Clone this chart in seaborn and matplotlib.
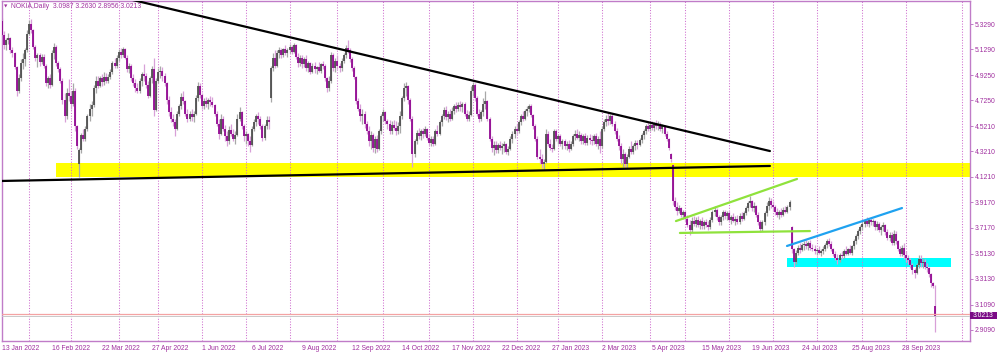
import numpy as np
import pandas as pd
import matplotlib
matplotlib.use("Agg")
import matplotlib.pyplot as plt
from matplotlib.patches import Rectangle
import matplotlib.transforms as mtrans
import seaborn as sns

# ---------------- data (daily bars, NOKIA, 13 Jan 2022 .. 19 Oct 2023) ----------------
opens = [
 5.35,5.24,5.16,5.20,5.22,5.12,5.10,4.99,4.80,4.90,
 5.02,5.05,5.12,5.25,5.33,5.28,5.15,5.06,5.08,5.03,
 5.07,5.00,4.86,4.90,4.85,5.10,5.15,5.02,4.97,4.88,
 4.73,4.60,4.78,4.76,4.70,4.80,4.52,4.22,4.33,4.45,
 4.42,4.50,4.60,4.66,4.69,4.82,4.88,4.84,4.90,4.87,
 4.91,4.88,4.91,4.95,5.02,5.00,5.06,5.11,5.08,5.13,
 5.06,4.97,5.00,4.90,4.86,4.82,4.80,4.88,4.93,4.92,
 4.85,4.76,4.90,4.97,4.65,4.88,4.95,4.96,4.92,4.86,
 4.73,4.63,4.58,4.55,4.50,4.62,4.68,4.75,4.72,4.62,
 4.58,4.62,4.59,4.62,4.74,4.84,4.77,4.68,4.72,4.70,
 4.73,4.71,4.69,4.62,4.54,4.46,4.58,4.50,4.44,4.40,
 4.49,4.46,4.42,4.45,4.58,4.63,4.52,4.44,4.46,4.40,
 4.37,4.50,4.55,4.60,4.58,4.52,4.43,4.52,4.57,4.74,
 4.98,5.06,5.00,5.10,5.12,5.08,5.13,5.10,5.12,5.15,
 5.11,5.16,5.07,5.02,5.06,5.01,5.05,4.98,5.02,4.95,
 5.00,4.97,4.99,4.96,5.01,5.00,4.90,4.82,4.88,5.08,
 4.98,5.04,5.00,4.98,5.04,5.08,5.14,5.12,5.05,4.98,
 4.91,4.72,4.66,4.60,4.62,4.54,4.48,4.40,4.45,4.35,
 4.42,4.34,4.48,4.60,4.63,4.56,4.54,4.48,4.53,4.51,
 4.48,4.52,4.60,4.74,4.82,4.84,4.73,4.58,4.30,4.40,
 4.47,4.44,4.48,4.46,4.50,4.43,4.39,4.42,4.38,4.48,
 4.46,4.55,4.60,4.65,4.59,4.62,4.58,4.64,4.68,4.66,
 4.69,4.67,4.70,4.62,4.58,4.61,4.80,4.85,4.74,4.62,
 4.58,4.63,4.70,4.72,4.58,4.42,4.35,4.37,4.33,4.37,
 4.35,4.36,4.38,4.32,4.34,4.42,4.46,4.50,4.48,4.55,
 4.60,4.58,4.64,4.66,4.68,4.61,4.52,4.42,4.28,4.26,
 4.22,4.24,4.46,4.38,4.35,4.34,4.48,4.42,4.44,4.38,
 4.40,4.36,4.38,4.34,4.38,4.44,4.46,4.43,4.45,4.40,
 4.44,4.39,4.43,4.41,4.40,4.44,4.38,4.42,4.36,4.50,
 4.55,4.58,4.56,4.60,4.54,4.48,4.42,4.36,4.26,4.30,
 4.22,4.28,4.34,4.32,4.36,4.39,4.37,4.41,4.45,4.48,
 4.52,4.50,4.53,4.51,4.54,4.52,4.53,4.50,4.52,4.46,
 4.42,4.30,4.21,3.93,3.88,3.85,3.87,3.82,3.84,3.79,
 3.74,3.70,3.77,3.75,3.78,3.74,3.77,3.73,3.76,3.74,
 3.72,3.78,3.84,3.86,3.80,3.76,3.80,3.84,3.81,3.83,
 3.78,3.80,3.77,3.79,3.76,3.81,3.79,3.83,3.87,3.91,
 3.93,3.87,3.89,3.82,3.76,3.71,3.76,3.83,3.89,3.93,
 3.90,3.88,3.84,3.82,3.84,3.82,3.86,3.84,3.88,3.72,
 3.55,3.45,3.52,3.56,3.54,3.58,3.59,3.57,3.60,3.56,
 3.55,3.53,3.54,3.52,3.53,3.55,3.58,3.61,3.59,3.55,
 3.51,3.48,3.46,3.50,3.49,3.53,3.51,3.55,3.52,3.57,
 3.61,3.65,3.69,3.72,3.75,3.77,3.75,3.78,3.76,3.77,
 3.72,3.75,3.70,3.72,3.74,3.68,3.64,3.66,3.60,3.67,
 3.61,3.55,3.51,3.56,3.50,3.48,3.46,3.42,3.38,3.36,
 3.42,3.47,3.44,3.45,3.41,3.40,3.35,3.28,3.0987,
]
highs = [
 5.38,5.27,5.22,5.26,5.23,5.15,5.11,5.00,4.93,5.05,
 5.10,5.14,5.28,5.36,5.37,5.29,5.16,5.10,5.10,5.09,
 5.09,5.01,4.92,4.93,5.12,5.18,5.16,5.04,4.99,4.90,
 4.78,4.82,4.89,4.80,4.86,4.82,4.53,4.35,4.47,4.50,
 4.52,4.62,4.70,4.72,4.85,4.92,4.92,4.92,4.93,4.95,
 4.94,4.93,4.97,5.04,5.06,5.08,5.13,5.14,5.15,5.14,
 5.08,5.02,5.01,4.93,4.89,4.86,4.90,4.95,5.01,4.94,
 4.88,4.92,5.00,5.06,4.90,4.98,5.00,4.99,4.94,4.87,
 4.76,4.67,4.62,4.58,4.64,4.70,4.78,4.80,4.73,4.66,
 4.64,4.66,4.64,4.77,4.87,4.86,4.78,4.74,4.75,4.74,
 4.76,4.75,4.70,4.64,4.58,4.62,4.60,4.53,4.48,4.52,
 4.54,4.50,4.48,4.62,4.67,4.64,4.54,4.48,4.47,4.44,
 4.52,4.58,4.62,4.63,4.60,4.54,4.54,4.60,4.60,5.00,
 5.10,5.12,5.12,5.15,5.14,5.14,5.16,5.14,5.17,5.16,
 5.18,5.17,5.10,5.08,5.08,5.07,5.08,5.04,5.03,5.02,
 5.03,5.00,5.03,5.02,5.04,5.01,4.91,4.92,5.11,5.10,
 5.06,5.08,5.02,5.06,5.10,5.16,5.20,5.14,5.07,5.00,
 4.92,4.74,4.70,4.66,4.64,4.56,4.52,4.48,4.47,4.44,
 4.45,4.50,4.62,4.66,4.64,4.58,4.57,4.56,4.57,4.56,
 4.55,4.64,4.76,4.86,4.87,4.85,4.74,4.60,4.42,4.49,
 4.51,4.50,4.51,4.52,4.51,4.46,4.44,4.44,4.50,4.53,
 4.57,4.62,4.67,4.68,4.64,4.66,4.67,4.70,4.71,4.71,
 4.72,4.71,4.71,4.65,4.64,4.84,4.87,4.86,4.76,4.66,
 4.65,4.74,4.80,4.73,4.59,4.44,4.40,4.40,4.39,4.40,
 4.39,4.40,4.39,4.36,4.44,4.48,4.52,4.54,4.57,4.62,
 4.64,4.66,4.68,4.70,4.70,4.62,4.54,4.44,4.34,4.30,
 4.26,4.50,4.48,4.42,4.38,4.50,4.50,4.46,4.46,4.42,
 4.42,4.40,4.41,4.40,4.46,4.49,4.50,4.48,4.47,4.46,
 4.47,4.45,4.46,4.45,4.46,4.47,4.44,4.48,4.52,4.58,
 4.61,4.63,4.62,4.62,4.56,4.51,4.45,4.39,4.34,4.32,
 4.30,4.36,4.40,4.38,4.41,4.41,4.43,4.47,4.50,4.54,
 4.55,4.55,4.56,4.55,4.57,4.56,4.55,4.54,4.53,4.48,
 4.43,4.31,4.22,3.96,3.92,3.90,3.88,3.86,3.85,3.82,
 3.78,3.80,3.81,3.80,3.81,3.79,3.80,3.78,3.79,3.77,
 3.80,3.86,3.89,3.87,3.82,3.82,3.86,3.86,3.85,3.85,
 3.82,3.83,3.81,3.82,3.83,3.84,3.85,3.89,3.93,3.97,
 3.94,3.92,3.90,3.84,3.78,3.78,3.85,3.92,3.96,3.95,
 3.93,3.90,3.87,3.86,3.87,3.88,3.89,3.90,3.94,3.73,
 3.56,3.54,3.58,3.60,3.60,3.61,3.62,3.61,3.62,3.59,
 3.58,3.56,3.57,3.55,3.57,3.60,3.63,3.64,3.61,3.56,
 3.53,3.51,3.52,3.53,3.55,3.57,3.56,3.58,3.58,3.63,
 3.67,3.71,3.74,3.77,3.79,3.80,3.79,3.80,3.79,3.78,
 3.77,3.76,3.74,3.76,3.75,3.71,3.68,3.68,3.70,3.69,
 3.62,3.57,3.58,3.60,3.53,3.50,3.48,3.44,3.40,3.44,
 3.50,3.50,3.48,3.47,3.44,3.41,3.36,3.29,3.2630,
]
lows = [
 5.21,5.13,5.12,5.17,5.10,5.07,4.97,4.76,4.78,4.88,
 4.97,5.00,5.11,5.24,5.26,5.13,5.04,4.99,5.00,5.01,
 4.98,4.84,4.82,4.82,4.84,5.05,5.00,4.95,4.86,4.70,
 4.55,4.58,4.72,4.66,4.68,4.48,4.34,4.12,4.31,4.40,
 4.40,4.48,4.56,4.60,4.67,4.78,4.82,4.83,4.84,4.85,
 4.86,4.86,4.89,4.93,4.98,4.98,5.04,5.06,5.07,5.05,
 4.95,4.94,4.88,4.84,4.79,4.78,4.78,4.84,4.88,4.82,
 4.74,4.75,4.86,4.60,4.64,4.86,4.90,4.88,4.84,4.70,
 4.60,4.55,4.52,4.44,4.49,4.60,4.66,4.70,4.60,4.55,
 4.56,4.56,4.55,4.61,4.72,4.74,4.66,4.66,4.67,4.66,
 4.68,4.67,4.60,4.52,4.42,4.45,4.48,4.40,4.36,4.38,
 4.44,4.40,4.38,4.44,4.56,4.50,4.40,4.38,4.36,4.32,
 4.36,4.48,4.52,4.54,4.50,4.40,4.41,4.50,4.50,4.71,
 4.96,4.98,4.99,5.06,5.06,5.07,5.08,5.07,5.10,5.09,
 5.10,5.05,4.99,5.00,4.98,4.99,4.96,4.95,4.93,4.94,
 4.94,4.93,4.95,4.94,4.97,4.88,4.79,4.80,4.86,4.96,
 4.95,4.97,4.95,4.96,5.02,5.06,5.10,5.03,4.96,4.89,
 4.70,4.64,4.56,4.54,4.51,4.46,4.36,4.34,4.32,4.31,
 4.32,4.33,4.46,4.56,4.54,4.50,4.46,4.46,4.49,4.45,
 4.46,4.47,4.58,4.72,4.76,4.70,4.56,4.20,4.28,4.38,
 4.42,4.41,4.43,4.44,4.41,4.37,4.36,4.36,4.37,4.44,
 4.45,4.52,4.58,4.57,4.55,4.56,4.57,4.62,4.63,4.64,
 4.64,4.63,4.60,4.56,4.56,4.60,4.76,4.72,4.60,4.55,
 4.56,4.60,4.66,4.56,4.40,4.32,4.29,4.31,4.31,4.33,
 4.30,4.32,4.30,4.29,4.33,4.39,4.43,4.46,4.47,4.53,
 4.56,4.57,4.60,4.63,4.59,4.50,4.40,4.26,4.22,4.19,
 4.18,4.23,4.36,4.33,4.32,4.33,4.40,4.38,4.36,4.34,
 4.34,4.33,4.32,4.33,4.36,4.41,4.42,4.40,4.38,4.38,
 4.37,4.37,4.38,4.37,4.38,4.36,4.34,4.31,4.35,4.48,
 4.52,4.53,4.54,4.52,4.46,4.40,4.33,4.22,4.20,4.19,
 4.19,4.27,4.30,4.30,4.33,4.34,4.36,4.39,4.42,4.46,
 4.48,4.48,4.49,4.48,4.50,4.49,4.48,4.47,4.44,4.40,
 4.33,4.24,3.90,3.86,3.82,3.83,3.80,3.79,3.77,3.72,
 3.66,3.68,3.73,3.72,3.72,3.71,3.71,3.71,3.72,3.70,
 3.71,3.76,3.81,3.78,3.74,3.74,3.78,3.79,3.78,3.76,
 3.75,3.76,3.74,3.75,3.75,3.77,3.78,3.82,3.85,3.88,
 3.85,3.84,3.80,3.74,3.68,3.69,3.74,3.81,3.86,3.87,
 3.85,3.82,3.80,3.79,3.80,3.81,3.83,3.83,3.86,3.52,
 3.41,3.43,3.50,3.52,3.53,3.54,3.55,3.54,3.54,3.53,
 3.51,3.50,3.51,3.49,3.51,3.53,3.56,3.57,3.53,3.49,
 3.46,3.43,3.45,3.47,3.48,3.50,3.50,3.51,3.50,3.55,
 3.59,3.63,3.67,3.70,3.72,3.73,3.72,3.74,3.73,3.70,
 3.70,3.68,3.66,3.69,3.66,3.62,3.61,3.58,3.58,3.59,
 3.53,3.49,3.49,3.47,3.45,3.43,3.40,3.35,3.32,3.35,
 3.40,3.41,3.40,3.39,3.37,3.33,3.25,3.24,2.8956,
]
closes = [
 5.24,5.16,5.20,5.22,5.12,5.10,4.99,4.80,4.90,5.02,
 5.05,5.12,5.25,5.33,5.28,5.15,5.06,5.08,5.03,5.07,
 5.00,4.86,4.90,4.85,5.10,5.15,5.02,4.97,4.88,4.73,
 4.60,4.78,4.76,4.70,4.80,4.52,4.36,4.33,4.45,4.42,
 4.50,4.60,4.66,4.69,4.82,4.88,4.84,4.90,4.87,4.91,
 4.88,4.91,4.95,5.02,5.00,5.06,5.11,5.08,5.13,5.06,
 4.97,5.00,4.90,4.86,4.82,4.80,4.88,4.93,4.92,4.85,
 4.76,4.90,4.97,4.65,4.88,4.95,4.96,4.92,4.86,4.73,
 4.63,4.58,4.55,4.50,4.62,4.68,4.75,4.72,4.62,4.58,
 4.62,4.59,4.62,4.74,4.84,4.77,4.68,4.72,4.70,4.73,
 4.71,4.69,4.62,4.54,4.46,4.58,4.50,4.44,4.40,4.49,
 4.46,4.42,4.45,4.58,4.63,4.52,4.44,4.46,4.40,4.37,
 4.50,4.55,4.60,4.58,4.52,4.43,4.52,4.57,4.55,4.98,
 5.06,5.00,5.10,5.12,5.08,5.13,5.10,5.12,5.15,5.11,
 5.16,5.07,5.02,5.06,5.01,5.05,4.98,5.02,4.95,5.00,
 4.97,4.99,4.96,5.01,5.00,4.90,4.82,4.88,5.08,4.98,
 5.04,5.00,4.98,5.04,5.08,5.14,5.12,5.05,4.98,4.91,
 4.72,4.66,4.60,4.62,4.54,4.48,4.40,4.45,4.35,4.42,
 4.34,4.48,4.60,4.63,4.56,4.54,4.48,4.53,4.51,4.48,
 4.52,4.60,4.74,4.82,4.84,4.73,4.58,4.30,4.40,4.47,
 4.44,4.48,4.46,4.50,4.43,4.39,4.42,4.38,4.48,4.46,
 4.55,4.60,4.65,4.59,4.62,4.58,4.64,4.68,4.66,4.69,
 4.67,4.70,4.62,4.58,4.61,4.80,4.85,4.74,4.62,4.58,
 4.63,4.70,4.72,4.58,4.42,4.35,4.37,4.33,4.37,4.35,
 4.36,4.38,4.32,4.34,4.42,4.46,4.50,4.48,4.55,4.60,
 4.58,4.64,4.66,4.68,4.61,4.52,4.42,4.28,4.26,4.22,
 4.24,4.46,4.38,4.35,4.34,4.48,4.42,4.44,4.38,4.40,
 4.36,4.38,4.34,4.38,4.44,4.46,4.43,4.45,4.40,4.44,
 4.39,4.43,4.41,4.40,4.44,4.38,4.42,4.36,4.50,4.55,
 4.58,4.56,4.60,4.54,4.48,4.42,4.36,4.26,4.30,4.22,
 4.28,4.34,4.32,4.36,4.39,4.37,4.41,4.45,4.48,4.52,
 4.50,4.53,4.51,4.54,4.52,4.53,4.50,4.52,4.46,4.42,
 4.35,4.26,3.93,3.88,3.85,3.87,3.82,3.84,3.79,3.74,
 3.70,3.77,3.75,3.78,3.74,3.77,3.73,3.76,3.74,3.72,
 3.78,3.84,3.86,3.80,3.76,3.80,3.84,3.81,3.83,3.78,
 3.80,3.77,3.79,3.76,3.81,3.79,3.83,3.87,3.91,3.93,
 3.87,3.89,3.82,3.76,3.71,3.76,3.83,3.89,3.93,3.90,
 3.88,3.84,3.82,3.84,3.82,3.86,3.84,3.88,3.92,3.55,
 3.45,3.52,3.56,3.54,3.58,3.59,3.57,3.60,3.56,3.55,
 3.53,3.54,3.52,3.53,3.55,3.58,3.61,3.59,3.55,3.51,
 3.48,3.46,3.50,3.49,3.53,3.51,3.55,3.52,3.57,3.61,
 3.65,3.69,3.72,3.75,3.77,3.75,3.78,3.76,3.77,3.72,
 3.75,3.70,3.72,3.74,3.68,3.64,3.66,3.60,3.67,3.61,
 3.55,3.51,3.56,3.50,3.48,3.46,3.42,3.38,3.36,3.42,
 3.47,3.44,3.45,3.41,3.40,3.35,3.28,3.26,3.0213,
]

# date labels on the time axis and the bar index of each labelled day
date_labels = ["13 Jan 2022", "16 Feb 2022", "22 Mar 2022", "27 Apr 2022", "1 Jun 2022",
               "6 Jul 2022", "9 Aug 2022", "12 Sep 2022", "14 Oct 2022", "17 Nov 2022",
               "22 Dec 2022", "27 Jan 2023", "2 Mar 2023", "5 Apr 2023", "15 May 2023",
               "19 Jun 2023", "24 Jul 2023", "25 Aug 2023", "28 Sep 2023"]
date_label_bars = [0, 24, 48, 72, 96, 120, 144, 168, 192, 216, 240, 264, 288, 312,
                   336, 360, 384, 408, 432]
# bar index of the first trading day of every month (vertical grid)
month_start_bars = [13, 33, 56, 75, 96, 117, 138, 161, 183, 205, 226, 247, 267, 288,
                    311, 328, 349, 370, 391, 413, 434, 461]
price_ticks = [5.3290, 5.1290, 4.9250, 4.7250, 4.5210, 4.3210, 4.1210, 3.9170,
               3.7170, 3.5130, 3.3130, 3.1090, 2.9090]

# drawn objects: trend lines (bar, price) end points and price zones
trend_names = ["falling", "rising", "green top", "green base", "blue"]
trend_bar0 = [62.0, -1.0, 323.5, 325.4, 376.8]
trend_price0 = [5.522, 4.087, 3.770, 3.676, 3.573]
trend_bar1 = [368.6, 368.6, 381.6, 387.8, 432.0]
trend_price1 = [4.324, 4.206, 4.103, 3.691, 3.873]
zone_names = ["yellow", "cyan"]
zone_bar0 = [25.9, 376.8]
zone_bar1 = [470.0, 455.5]
zone_low = [4.118, 3.410]
zone_high = [4.229, 3.478]

symbol = "NOKIA,Daily"
last_ohlc = [3.0987, 3.2630, 2.8956, 3.0213]
bid_price = 3.0213
ask_price = 3.0330

# ---------------- styling ----------------
sns.set_theme(style="white")
plt.rcParams["font.family"] = ["Liberation Sans", "DejaVu Sans"]

FRAME = "#C07CC8"
TEXT = "#A0309F"
GRID = "#CF6FCF"
UP_BODY, UP_WICK = "#4A4A4A", "#A8A8A8"
DN_BODY, DN_WICK = "#8E008E", "#D8A0D8"
trend_colors = {"falling": "#000000", "rising": "#000000", "green top": "#8FE23C",
                "green base": "#8FE23C", "blue": "#1FA2F0"}
zone_colors = {"yellow": "#FFFF00", "cyan": "#00FFFF"}

n = min(len(opens), len(highs), len(lows), len(closes))
df = pd.DataFrame({"bar": np.arange(n), "open": opens[:n], "high": highs[:n],
                   "low": lows[:n], "close": closes[:n]})
df["up"] = df["close"] >= df["open"]

W, H = 1000, 353
fig = plt.figure(figsize=(W / 100, H / 100), dpi=100)
ax_left, ax_right, ax_top, ax_bot = 1.5, 970.0, 1.0, 341.0
ax = fig.add_axes([ax_left / W, (H - ax_bot) / H, (ax_right - ax_left) / W, (ax_bot - ax_top) / H])
ax.set_facecolor("white")

# month grid
y0, y1 = 2.8212, 5.511
ax.vlines(month_start_bars, y0, y1, colors=GRID, linestyles=(0, (1.0, 1.6)), lw=0.75, zorder=1.5)

# zones
for name, b0, b1, lo, hi in zip(zone_names, zone_bar0, zone_bar1, zone_low, zone_high):
    ax.add_patch(Rectangle((b0, lo), b1 - b0, hi - lo, facecolor=zone_colors[name],
                           edgecolor="none", zorder=1))

# candles
wick_c = np.where(df["up"], UP_WICK, DN_WICK)
body_c = np.where(df["up"], UP_BODY, DN_BODY)
ax.vlines(df["bar"], df["low"], df["high"], colors=wick_c, lw=0.9, zorder=2)
blo = np.minimum(df["open"], df["close"])
bhi = np.maximum(df["open"], df["close"])
mid = (blo + bhi) / 2
half = np.maximum((bhi - blo) / 2, 0.005)
ax.vlines(df["bar"], mid - half, mid + half, colors=body_c, lw=1.25, zorder=3)

# trend lines via seaborn
rows = []
for nm, b0, p0, b1, p1 in zip(trend_names, trend_bar0, trend_price0, trend_bar1, trend_price1):
    rows.append({"line": nm, "bar": b0, "price": p0})
    rows.append({"line": nm, "bar": b1, "price": p1})
tl = pd.DataFrame(rows)
sns.lineplot(data=tl, x="bar", y="price", hue="line", palette=trend_colors, units="line",
             estimator=None, sort=False, lw=1.6, legend=False, ax=ax, zorder=4)

# bid / ask lines
ax.axhline(ask_price, color="#F4A3A3", lw=0.9, zorder=4)
ax.axhline(bid_price, color="#C9C9C9", lw=0.7, zorder=4)

ax.set_xlim(-0.24, 464.64)
ax.set_ylim(y0, y1)
ax.set_xlabel("")
ax.set_ylabel("")

for s in ax.spines.values():
    s.set_visible(True)
    s.set_color(FRAME)
    s.set_linewidth(1.0)

FS = 4.9
ax.set_xticks(date_label_bars)
ax.set_xticklabels(date_labels, ha="left")
ax.tick_params(axis="x", direction="out", length=2.2, width=0.7, color=FRAME,
               labelcolor=TEXT, labelsize=FS, pad=0.8)
ax.yaxis.tick_right()
ax.set_yticks(price_ticks)
ax.set_yticklabels([f"{v:.4f}" for v in price_ticks])
ax.tick_params(axis="y", direction="out", length=2.0, width=0.7, color=FRAME,
               labelcolor=TEXT, labelsize=FS, pad=1.2)
ax.grid(False)

# price label boxes on the right scale
bt = mtrans.blended_transform_factory(ax.transAxes, ax.transData)
axw = ax_right - ax_left
px_price = (y1 - y0) / (ax_bot - ax_top)
ax.add_patch(Rectangle((1.0, ask_price - 3 * px_price), 27 / axw, 3.2 * px_price,
                       transform=bt, facecolor="#FF2020", edgecolor="none", clip_on=False, zorder=5))
ax.add_patch(Rectangle((1.0, bid_price - 3.2 * px_price), 27 / axw, 6.6 * px_price,
                       transform=bt, facecolor="#7A0A86", edgecolor="none", clip_on=False, zorder=6))
ax.text(1.0 + 3.0 / axw, bid_price, f"{bid_price:.4f}", transform=bt, color="white",
        fontsize=FS, va="center", ha="left", zorder=7, clip_on=False)

# header
fig.text(4 / W, 1 - 6.5 / H, "\u25BC", fontsize=3.2, color=TEXT, va="center", ha="left",
         family=["DejaVu Sans"])
fig.text(11 / W, 1 - 6.5 / H,
         f"{symbol}  " + " ".join(f"{v:.4f}" for v in last_ohlc),
         fontsize=FS, color=TEXT, va="center", ha="left")

fig.savefig("out.png", dpi=100, facecolor="white")
